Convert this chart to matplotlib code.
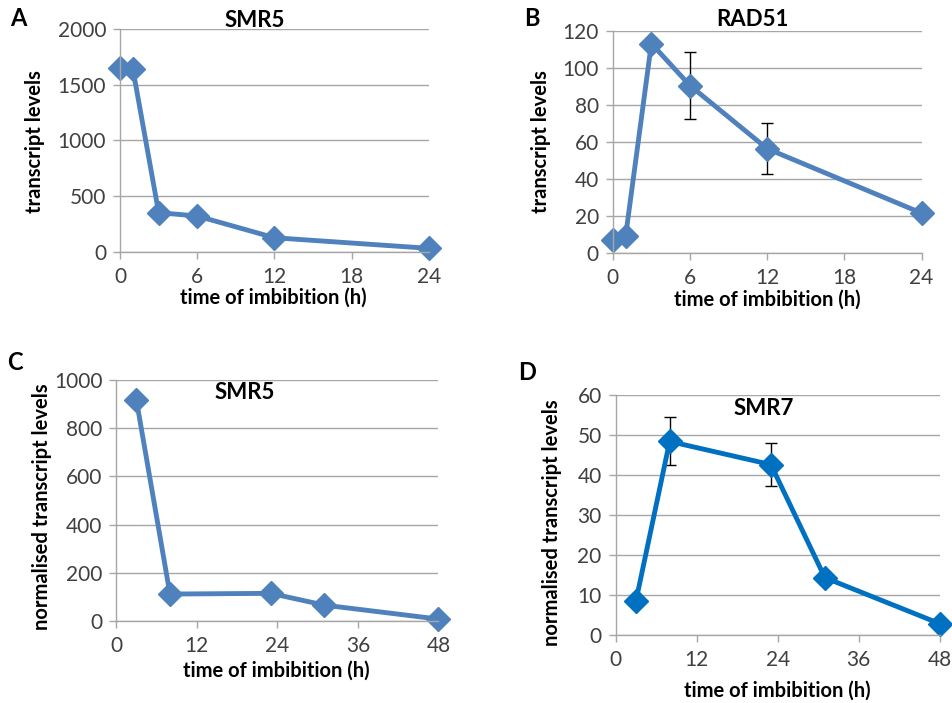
import numpy as np
import matplotlib
matplotlib.use('Agg')
import matplotlib.pyplot as plt

plt.rcParams['font.family'] = ['Lato', 'DejaVu Sans']

# A - SMR5
a_jam = [0, 1, 3, 6, 12, 24]
a_nilai = [1645, 1635, 350, 320, 125, 30]
# B - RAD51
b_jam = [0, 1, 3, 6, 12, 24]
b_nilai = [6.8, 9.3, 113.2, 90.5, 56.4, 21.6]
b_err = [2, 3, 3, 18, 13.6, 1]
# C - SMR5 normalised
c_jam = [3, 8, 23, 31, 48]
c_nilai = [918, 111, 114, 65, 7]
# D - SMR7 normalised
d_jam = [3, 8, 23, 31, 48]
d_nilai = [8.4, 48.4, 42.6, 14.3, 2.8]
d_err = [1, 6, 5.4, 1.5, 0.5]

warna = '#4F81BD'
warna2 = '#0070C0'
abu = '#A6A6A6'
teks = '#404040'

fig = plt.figure(figsize=(9.53, 7.03), dpi=100)

def gaya(ax, xlim, xt, ylim, yt):
    ax.set_xlim(xlim)
    ax.set_ylim(ylim)
    ax.set_xticks(xt)
    ax.set_yticks(yt)
    ax.grid(axis='y', color=abu, lw=1)
    ax.set_axisbelow(True)
    for s in ['top', 'right']:
        ax.spines[s].set_visible(False)
    for s in ['left', 'bottom']:
        ax.spines[s].set_color(abu)
        ax.spines[s].set_linewidth(1)
    ax.tick_params(colors=abu, labelcolor=teks, labelsize=15, length=5, width=1)
    ax.tick_params(axis='x', pad=6)
    ax.tick_params(axis='y', pad=5)

def label(ax, yl, xpos, ypos):
    ax.set_ylabel(yl, fontsize=14.5, fontweight='bold')
    ax.set_xlabel('time of imbibition (h)', fontsize=14.5, fontweight='bold')
    ax.yaxis.set_label_coords(*ypos)
    ax.xaxis.set_label_coords(*xpos)

def judul(ax, t, x, y):
    ax.text(x, y, t, transform=ax.transAxes, fontsize=16, fontweight='bold',
            ha='center', va='center')

# Gambar A
i = fig.add_axes([0.126, 0.642, 0.324, 0.317])
i.plot(a_jam, a_nilai, color=warna, lw=3.5, marker='D', ms=12, clip_on=False)
gaya(i, (0, 24), [0, 6, 12, 18, 24], (0, 2000), [0, 500, 1000, 1500, 2000])
label(i, 'transcript levels', (0.495, -0.163), (-0.243, 0.493))
judul(i, 'SMR5', 0.437, 1.036)

# Gambar B
j = fig.add_axes([0.643, 0.640, 0.324, 0.316])
j.errorbar(b_jam, b_nilai, yerr=b_err, color=warna, lw=3.5, marker='D', ms=12,
           ecolor='black', elinewidth=1, capsize=4, capthick=1, clip_on=False)
gaya(j, (0, 24), [0, 6, 12, 18, 24], (0, 120), [0, 20, 40, 60, 80, 100, 120])
label(j, 'transcript levels', (0.502, -0.164), (-0.2, 0.5))
judul(j, 'RAD51', 0.453, 1.05)

# Gambar C
k = fig.add_axes([0.122, 0.117, 0.338, 0.342])
k.plot(c_jam, c_nilai, color=warna, lw=3.5, marker='D', ms=12, clip_on=False)
gaya(k, (0, 48), [0, 12, 24, 36, 48], (0, 1000), [0, 200, 400, 600, 800, 1000])
label(k, 'normalised transcript levels', (0.497, -0.165), (-0.199, 0.473))
judul(k, 'SMR5', 0.40, 0.95)

# Gambar D
m = fig.add_axes([0.646, 0.097, 0.340, 0.341])
m.errorbar(d_jam, d_nilai, yerr=d_err, color=warna2, lw=3.5, marker='D', ms=12,
           ecolor='black', elinewidth=1, capsize=4, capthick=1, clip_on=False)
gaya(m, (0, 48), [0, 12, 24, 36, 48], (0, 60), [0, 10, 20, 30, 40, 50, 60])
label(m, 'normalised transcript levels', (0.5, -0.19), (-0.164, 0.467))
judul(m, 'SMR7', 0.457, 0.946)

# huruf panel
for huruf, (px, py) in zip('ABCD', [(18, 19), (532, 19), (15, 363), (527, 372)]):
    fig.text(px / 953, 1 - py / 703, huruf, fontsize=17, fontweight='bold',
             ha='center', va='center')

fig.savefig('out.png', dpi=100)
